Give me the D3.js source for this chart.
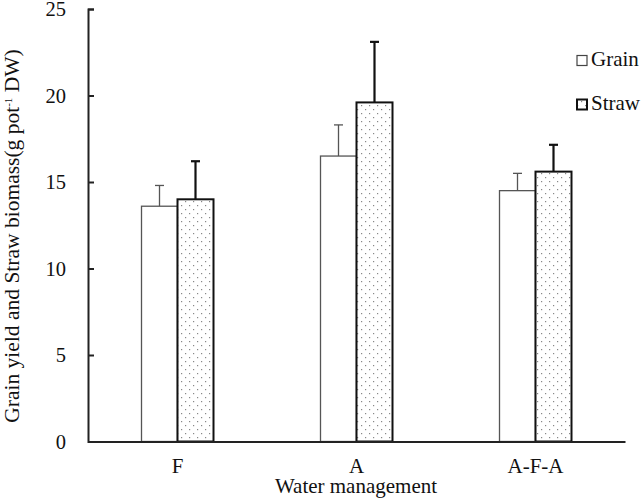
<!DOCTYPE html>
<html><head><meta charset="utf-8">
<script src="https://cdn.jsdelivr.net/npm/d3@7"></script>
<style>body{margin:0;background:#fff}svg{display:block}</style>
</head><body>
<svg id="c" width="643" height="498"></svg>
<script>
const categories = ["F", "A", "A-F-A"];
const seriesNames = ["Grain", "Straw"];
const grain = [13.6, 16.5, 14.5];
const grainErr = [1.2, 1.8, 1.0];
const straw = [14.0, 19.6, 15.6];
const strawErr = [2.2, 3.5, 1.55];
const yTicks = [0, 5, 10, 15, 20, 25];

const svg = d3.select("#c");
const font = "'Liberation Serif','Times New Roman',serif";
const defs = svg.append("defs");
const pat = defs.append("pattern").attr("id","dots").attr("patternUnits","userSpaceOnUse")
  .attr("width",8).attr("height",8);
pat.append("rect").attr("width",8).attr("height",8).attr("fill","#fff");
pat.append("rect").attr("x",1).attr("y",1).attr("width",1.2).attr("height",1.2).attr("fill","#888");
pat.append("rect").attr("x",5).attr("y",5).attr("width",1.2).attr("height",1.2).attr("fill","#888");

const y = d3.scaleLinear().domain([0,25]).range([441.5,9]);
const x = d3.scaleBand().domain(categories).range([88,625]).padding(0);
const xs = d3.scaleBand().domain(seriesNames).range([-36,36]);

const rows = categories.map((c,i)=>({c, vals:[
  {s:"Grain", v:grain[i], e:grainErr[i]},
  {s:"Straw", v:straw[i], e:strawErr[i]}]}));

const g = svg.append("g");
rows.forEach(r=>{
  const cx = x(r.c) + x.bandwidth()/2;
  r.vals.forEach(d=>{
    const bx = cx + xs(d.s);
    const isS = d.s==="Straw";
    const ex = bx + xs.bandwidth()/2;
    g.append("line").attr("x1",ex).attr("x2",ex).attr("y1",y(d.v)).attr("y2",y(d.v+d.e))
      .attr("stroke", isS?"#111":"#555").attr("stroke-width", isS?2.2:1.3);
    g.append("line").attr("x1",ex-4.5).attr("x2",ex+4.5).attr("y1",y(d.v+d.e)).attr("y2",y(d.v+d.e))
      .attr("stroke", isS?"#111":"#555").attr("stroke-width", isS?2.2:1.3);
    g.append("rect").attr("x",bx).attr("y",y(d.v)).attr("width",xs.bandwidth()).attr("height",y(0)-y(d.v))
      .attr("fill", isS?"url(#dots)":"#fff")
      .attr("stroke", isS?"#111":"#555").attr("stroke-width", isS?2:1.3);
  });
});

const yAxis = d3.axisLeft(y).tickValues(yTicks).tickSize(-6).tickPadding(22);
const ya = svg.append("g").attr("transform","translate(88,0)").call(yAxis);
ya.select(".domain").attr("stroke","#222").attr("stroke-width",2);
ya.selectAll(".tick line").attr("stroke","#222").attr("stroke-width",2);
ya.selectAll(".tick text").attr("font-family",font).attr("font-size",20.5).attr("fill","#111").attr("x",-22);

const xAxis = d3.axisBottom(x).tickSize(0).tickPadding(0);
const xa = svg.append("g").attr("transform","translate(0,441.5)").call(xAxis);
xa.select(".domain").attr("stroke","#222").attr("stroke-width",2.2);
xa.selectAll(".tick text").attr("font-family",font).attr("font-size",21).attr("fill","#111")
  .attr("dy",null).attr("y",31.5);

svg.append("text").attr("x",356).attr("y",493).attr("text-anchor","middle")
  .attr("font-family",font).attr("font-size",21).attr("fill","#111").text("Water management");

const yt = svg.append("text").attr("transform","translate(18.5,236) rotate(-90)").attr("text-anchor","middle")
  .attr("font-family",font).attr("font-size",21.5).attr("fill","#111");
yt.append("tspan").text("Grain yield and Straw biomass(g pot");
yt.append("tspan").attr("font-size",11).attr("dy",-7).text("-1");
yt.append("tspan").attr("dy",7).text(" DW)");

const leg = svg.append("g");
seriesNames.forEach((s,i)=>{
  const ly = 60 + i*44;
  const isS = s==="Straw";
  leg.append("rect").attr("x",577).attr("y",ly-4.5).attr("width",10).attr("height",10)
    .attr("fill", isS?"url(#dots)":"#fff").attr("stroke", isS?"#111":"#444").attr("stroke-width", isS?2:1.2);
  leg.append("text").attr("x",591).attr("y",ly+6).attr("font-family",font).attr("font-size",21)
    .attr("fill","#111").text(s);
});
</script>
</body></html>
